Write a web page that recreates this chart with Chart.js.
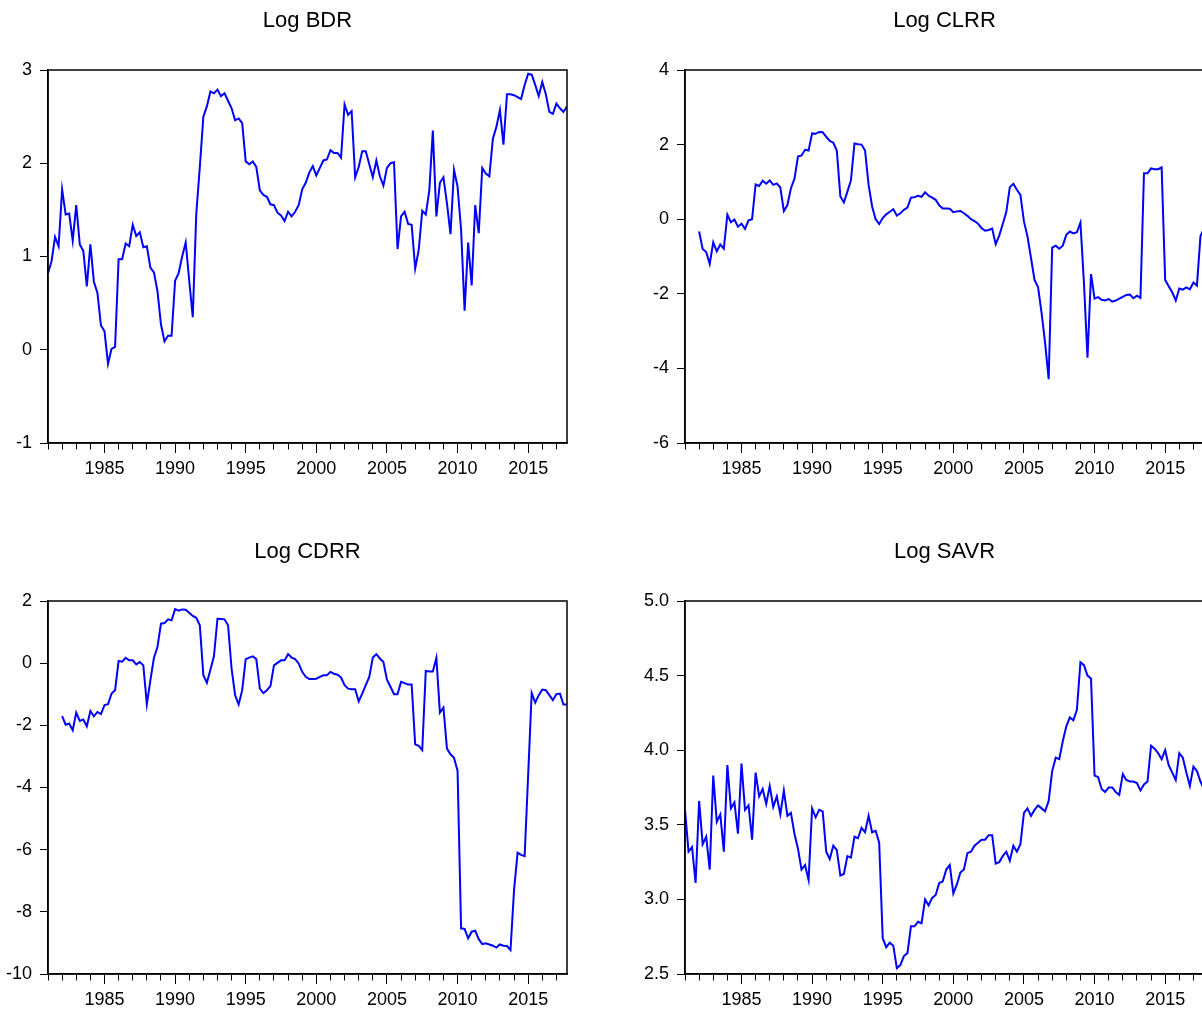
<!DOCTYPE html>
<html>
<head>
<meta charset="utf-8">
<script src="https://cdn.jsdelivr.net/npm/chart.js@4.4.1/dist/chart.umd.min.js"></script>
<style>
  html, body { margin: 0; padding: 0; background: #fff; overflow: hidden; }
  #wrap { position: relative; width: 1202px; height: 1010px; overflow: hidden; }
  canvas { position: absolute; }
</style>
</head>
<body>
<div id="wrap">
  <canvas id="bdr" width="600" height="520" style="left:0;top:0"></canvas>
  <canvas id="clrr" width="600" height="520" style="left:637px;top:0"></canvas>
  <canvas id="cdrr" width="600" height="520" style="left:0;top:531px"></canvas>
  <canvas id="savr" width="600" height="520" style="left:637px;top:531px"></canvas>
</div>
<script>
// quarterly samples, first observation year
let bdrStart = 1981;
let clrrStart = 1982;
let cdrrStart = 1982;
let savrStart = 1981;

let bdr = [
  0.82, 0.95, 1.21, 1.11,  1.72, 1.45, 1.46, 1.17,  1.55, 1.13, 1.06, 0.68,  1.13, 0.73, 0.61, 0.26,
  0.20, -0.15, 0.01, 0.03,  0.97, 0.97, 1.14, 1.11,  1.34, 1.22, 1.26, 1.10,  1.11, 0.88, 0.83, 0.63,
  0.27, 0.09, 0.15, 0.15,  0.74, 0.82, 1.00, 1.15,  0.74, 0.35, 1.46, 1.96,  2.50, 2.61, 2.77, 2.75,
  2.79, 2.72, 2.75, 2.67,  2.59, 2.46, 2.48, 2.43,  2.02, 1.99, 2.02, 1.96,  1.71, 1.66, 1.64, 1.56,
  1.55, 1.47, 1.44, 1.38,  1.48, 1.43, 1.48, 1.55,  1.72, 1.79, 1.90, 1.97,  1.87, 1.95, 2.03, 2.04,
  2.14, 2.11, 2.11, 2.06,  2.63, 2.52, 2.56, 1.85,  1.96, 2.13, 2.13, 1.99,  1.85, 2.03, 1.86, 1.76,
  1.95, 2.00, 2.01, 1.08,  1.43, 1.48, 1.35, 1.34,  0.87, 1.07, 1.49, 1.45,  1.71, 2.35, 1.43, 1.79,
  1.85, 1.57, 1.24, 1.93,  1.75, 1.29, 0.42, 1.15,  0.69, 1.55, 1.25, 1.95,  1.89, 1.86, 2.26, 2.39,
  2.57, 2.20, 2.74, 2.74,  2.73, 2.71, 2.69, 2.84,  2.96, 2.95, 2.84, 2.72,  2.87, 2.74, 2.55, 2.53,
  2.64, 2.59, 2.55, 2.61
];

let clrr = [
  -0.33, -0.80, -0.88, -1.20,  -0.62, -0.86, -0.68, -0.79,  0.12, -0.08, -0.01, -0.20,  -0.12, -0.26, -0.03, 0.00,
  0.93, 0.89, 1.03, 0.95,  1.04, 0.92, 0.96, 0.85,  0.22, 0.38, 0.83, 1.08,  1.68, 1.71, 1.86, 1.84,
  2.30, 2.29, 2.34, 2.33,  2.21, 2.10, 2.05, 1.84,  0.61, 0.45, 0.74, 1.04,  2.03, 2.01, 2.00, 1.84,
  0.92, 0.34, 0.00, -0.13,  0.03, 0.13, 0.20, 0.27,  0.10, 0.16, 0.25, 0.31,  0.58, 0.59, 0.63, 0.60,
  0.72, 0.63, 0.58, 0.52,  0.37, 0.29, 0.29, 0.28,  0.19, 0.21, 0.22, 0.16,  0.09, 0.00, -0.05, -0.12,
  -0.24, -0.31, -0.29, -0.25,  -0.67, -0.44, -0.13, 0.19,  0.86, 0.95, 0.79, 0.65,  -0.06, -0.46, -1.04, -1.63,
  -1.82, -2.52, -3.32, -4.29,  -0.76, -0.71, -0.79, -0.71,  -0.42, -0.33, -0.38, -0.35,  -0.09, -1.71, -3.71, -1.47,
  -2.13, -2.09, -2.16, -2.18,  -2.14, -2.21, -2.18, -2.13,  -2.08, -2.03, -2.02, -2.12,  -2.05, -2.11, 1.23, 1.23,
  1.36, 1.34, 1.34, 1.39,  -1.63, -1.80, -1.96, -2.18,  -1.86, -1.89, -1.83, -1.88,  -1.70, -1.78, -0.45, -0.25
];

let cdrr = [
  -1.70, -1.98, -1.94, -2.16,  -1.59, -1.86, -1.81, -2.03,  -1.54, -1.71, -1.57, -1.64,  -1.35, -1.32, -0.98, -0.87,
  0.07, 0.05, 0.17, 0.09,  0.09, -0.04, 0.04, -0.07,  -1.32, -0.55, 0.17, 0.52,  1.27, 1.29, 1.41, 1.38,
  1.74, 1.69, 1.73, 1.72,  1.62, 1.52, 1.46, 1.22,  -0.39, -0.63, -0.21, 0.22,  1.43, 1.42, 1.41, 1.22,
  -0.18, -1.03, -1.33, -0.87,  0.13, 0.18, 0.22, 0.13,  -0.82, -0.96, -0.87, -0.74,  -0.07, 0.01, 0.09, 0.09,
  0.29, 0.18, 0.13, -0.01,  -0.28, -0.44, -0.51, -0.51,  -0.50, -0.44, -0.39, -0.39,  -0.28, -0.34, -0.37, -0.46,
  -0.71, -0.82, -0.84, -0.84,  -1.23, -0.98, -0.71, -0.44,  0.18, 0.29, 0.15, 0.04,  -0.53, -0.76, -1.00, -1.00,
  -0.60, -0.64, -0.69, -0.69,  -2.61, -2.66, -2.80, -0.25,  -0.27, -0.27, 0.17, -1.59,  -1.43, -2.75, -2.93, -3.04,
  -3.46, -8.53, -8.55, -8.85,  -8.64, -8.61, -8.88, -9.04,  -9.01, -9.05, -9.09, -9.15,  -9.05, -9.09, -9.10, -9.23,
  -7.30, -6.10, -6.17, -6.21,  -3.60, -0.96, -1.27, -1.03,  -0.85, -0.87, -1.03, -1.19,  -1.00, -0.98, -1.33, -1.33
];

let savr = [
  3.60, 3.32, 3.35, 3.11,  3.66, 3.37, 3.42, 3.20,  3.83, 3.52, 3.57, 3.32,  3.90, 3.61, 3.65, 3.44,
  3.91, 3.60, 3.63, 3.40,  3.85, 3.69, 3.74, 3.64,  3.76, 3.62, 3.69, 3.57,  3.73, 3.56, 3.58, 3.44,
  3.34, 3.20, 3.23, 3.13,  3.61, 3.55, 3.60, 3.59,  3.32, 3.27, 3.36, 3.33,  3.16, 3.17, 3.29, 3.28,
  3.42, 3.41, 3.48, 3.45,  3.56, 3.45, 3.46, 3.38,  2.74, 2.68, 2.71, 2.69,  2.54, 2.56, 2.62, 2.64,
  2.82, 2.82, 2.85, 2.84,  3.00, 2.96, 3.01, 3.03,  3.11, 3.12, 3.20, 3.23,  3.04, 3.10, 3.18, 3.20,
  3.31, 3.32, 3.36, 3.38,  3.40, 3.40, 3.43, 3.43,  3.24, 3.25, 3.29, 3.32,  3.26, 3.36, 3.32, 3.37,
  3.58, 3.61, 3.56, 3.60,  3.63, 3.61, 3.59, 3.66,  3.86, 3.95, 3.94, 4.06,  4.16, 4.22, 4.20, 4.27,
  4.59, 4.57, 4.50, 4.48,  3.83, 3.82, 3.74, 3.72,  3.75, 3.75, 3.72, 3.70,  3.84, 3.80, 3.79, 3.79,
  3.78, 3.73, 3.77, 3.79,  4.03, 4.01, 3.98, 3.94,  4.00, 3.90, 3.85, 3.80,  3.98, 3.95, 3.85, 3.76,
  3.89, 3.86, 3.79, 3.74
];

// axis ticks
let yearLabels = [1985, 1990, 1995, 2000, 2005, 2010, 2015];
let bdrTicks = [-1, 0, 1, 2, 3];
let clrrTicks = [-6, -4, -2, 0, 2, 4];
let cdrrTicks = [-10, -8, -6, -4, -2, 0, 2];
let savrTicks = [2.5, 3.0, 3.5, 4.0, 4.5, 5.0];

Chart.defaults.font.family = '"Liberation Sans", Arial, sans-serif';
Chart.defaults.color = '#000';

// box round the plot area, title centred over it
const frame = {
  id: 'frame',
  afterDraw(chart, args, opts) {
    const a = chart.chartArea;
    const ctx = chart.ctx;
    ctx.save();
    ctx.strokeStyle = '#000';
    ctx.lineWidth = 1.5;
    ctx.strokeRect(a.left, a.top, a.right - a.left, a.bottom - a.top);
    ctx.fillStyle = '#000';
    ctx.font = '22px "Liberation Sans", Arial, sans-serif';
    ctx.textAlign = 'center';
    ctx.textBaseline = 'middle';
    ctx.fillText(opts.title, (a.left + a.right) / 2, a.top - 49.5);
    ctx.restore();
  }
};

function makeChart(id, title, start, values, yTicks, decimals) {
  let points = values.map((v, i) => ({ x: start + i / 4, y: v }));
  return new Chart(document.getElementById(id), {
    type: 'line',
    data: {
      datasets: [{
        data: points,
        borderColor: '#0000ff',
        borderWidth: 2,
        pointRadius: 0,
        tension: 0,
        fill: false
      }]
    },
    options: {
      responsive: false,
      animation: false,
      layout: { padding: { top: 70, left: 0, right: 33, bottom: 37 } },
      plugins: {
        legend: { display: false },
        tooltip: { enabled: false },
        title: { display: false },
        frame: { title: title }
      },
      scales: {
        x: {
          type: 'linear',
          min: 1981,
          max: 2017.75,
          afterFit: s => { s.height = 40; },
          border: { color: '#000', width: 1.5 },
          grid: {
            drawOnChartArea: false,
            tickLength: 10,
            tickColor: '#000',
            tickWidth: 1,
            tickBorderDash: c => (c.tick && yearLabels.includes(c.tick.value)) ? [] : [6, 40]
          },
          ticks: {
            stepSize: 1,
            includeBounds: false,
            autoSkip: false,
            maxRotation: 0,
            padding: 5,
            font: { size: 18 },
            callback: v => yearLabels.includes(v) ? String(v) : ''
          }
        },
        y: {
          min: yTicks[0],
          max: yTicks[yTicks.length - 1],
          afterFit: s => { s.width = 48; },
          border: { color: '#000', width: 1.5 },
          grid: { drawOnChartArea: false, tickLength: 8, tickColor: '#000', tickWidth: 1 },
          ticks: {
            stepSize: yTicks[1] - yTicks[0],
            padding: 8,
            font: { size: 18 },
            callback: v => v.toFixed(decimals)
          }
        }
      }
    },
    plugins: [frame]
  });
}

makeChart('bdr', 'Log BDR', bdrStart, bdr, bdrTicks, 0);
makeChart('clrr', 'Log CLRR', clrrStart, clrr, clrrTicks, 0);
makeChart('cdrr', 'Log CDRR', cdrrStart, cdrr, cdrrTicks, 0);
makeChart('savr', 'Log SAVR', savrStart, savr, savrTicks, 1);
</script>
</body>
</html>
